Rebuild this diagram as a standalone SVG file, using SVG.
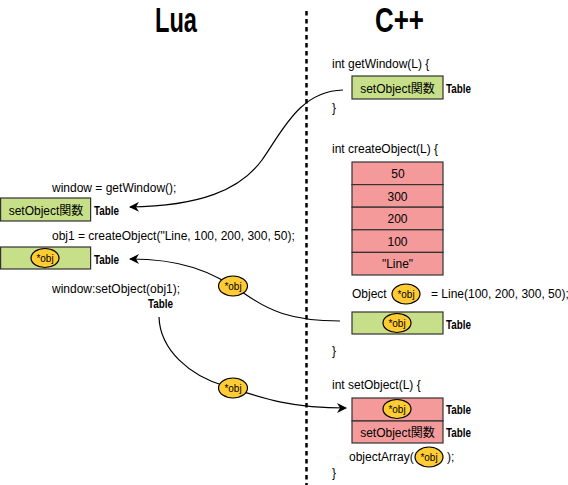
<svg xmlns="http://www.w3.org/2000/svg" width="568" height="485" viewBox="0 0 568 485">
<defs>
<style>
.t{font-family:"Liberation Sans",Arial,sans-serif;font-size:12px;fill:#000}
.c{font-family:"Liberation Sans","Noto Sans CJK JP",sans-serif;font-size:12px;fill:#000;text-anchor:middle}
.h{font-family:"Liberation Sans",Arial,sans-serif;font-weight:bold;font-size:35px;fill:#000}
.tb{font-family:"Liberation Sans",Arial,sans-serif;font-weight:bold;font-size:13.5px;fill:#000}
.g{fill:#C6DF88;stroke:#333;stroke-width:1.2}
.p{fill:#F49A9A;stroke:#333;stroke-width:1.2}
.e{fill:#FFCC33;stroke:#000;stroke-width:1.2}
.o{font-family:"Liberation Sans",Arial,sans-serif;font-size:10px;fill:#000;text-anchor:middle}
.l{fill:none;stroke:#000;stroke-width:1.2}
</style>
<marker id="ah" viewBox="0 0 10 10" refX="9" refY="5" markerWidth="10" markerHeight="10" markerUnits="userSpaceOnUse" orient="auto">
<path d="M0,0 L10,5 L0,10 L3,5 Z" fill="#000"/>
</marker>
</defs>
<rect width="568" height="485" fill="#fff"/>
<line x1="306.5" y1="11" x2="306.5" y2="485" stroke="#000" stroke-width="2.5" stroke-dasharray="4.5 3.5"/>
<text class="h" x="155" y="32" textLength="42" lengthAdjust="spacingAndGlyphs">Lua</text>
<text class="h" x="375" y="32" textLength="49" lengthAdjust="spacingAndGlyphs">C++</text>

<g id="connectors">
<path class="l" d="M343,90 C300,91 283,130 262,160 C240,190 200,206 130,207" marker-end="url(#ah)"/>
<path class="l" d="M340,321 C290,321 268,310 245,294 C210,270 180,259 130,259" marker-end="url(#ah)"/>
<path class="l" d="M159,317 C160,350 190,376 225,386 C262,398 290,408 346,408" marker-end="url(#ah)"/>
</g>

<g id="lua-window">
<text class="t" x="52" y="192">window = getWindow();</text>
<rect class="g" x="0.6" y="198" width="90" height="23"/>
<text class="c" x="46" y="215">setObject関数</text>
<text class="tb" x="94" y="215" textLength="25" lengthAdjust="spacingAndGlyphs">Table</text>
</g>
<g id="lua-obj1">
<text class="t" x="52" y="240">obj1 = createObject("Line, 100, 200, 300, 50);</text>
<rect class="g" x="0.6" y="247" width="90" height="22"/>
<ellipse class="e" cx="45" cy="258" rx="14" ry="9.5"/>
<text class="o" x="45" y="262">*obj</text>
<text class="tb" x="94" y="264" textLength="25" lengthAdjust="spacingAndGlyphs">Table</text>
</g>
<g id="lua-setobject">
<text class="t" x="52" y="293">window:setObject(obj1);</text>
<text class="tb" x="148" y="308" textLength="25" lengthAdjust="spacingAndGlyphs">Table</text>
</g>
<g id="badge1">
<ellipse class="e" cx="233" cy="286" rx="14.5" ry="10"/>
<text class="o" x="233" y="290">*obj</text>
</g>
<g id="badge2">
<ellipse class="e" cx="233" cy="388" rx="14.5" ry="10"/>
<text class="o" x="233" y="392">*obj</text>
</g>

<g id="cpp-getwindow">
<text class="t" x="332" y="68">int getWindow(L) {</text>
<rect class="g" x="352" y="76" width="91" height="23"/>
<text class="c" x="397.5" y="93">setObject関数</text>
<text class="tb" x="446" y="93" textLength="25" lengthAdjust="spacingAndGlyphs">Table</text>
<text class="t" x="332" y="112">}</text>
</g>

<g id="cpp-createobject">
<text class="t" x="332" y="153">int createObject(L) {</text>
<rect class="p" x="352" y="162" width="91" height="22.6"/>
<rect class="p" x="352" y="184.6" width="91" height="22.6"/>
<rect class="p" x="352" y="207.2" width="91" height="22.6"/>
<rect class="p" x="352" y="229.8" width="91" height="22.6"/>
<rect class="p" x="352" y="252.4" width="91" height="22.6"/>
<text class="c" x="398" y="178">50</text>
<text class="c" x="397.5" y="200.5">300</text>
<text class="c" x="397.5" y="223">200</text>
<text class="c" x="397.5" y="245.5">100</text>
<text class="c" x="397.5" y="268">"Line"</text>
<text class="t" x="352" y="298">Object</text>
<ellipse class="e" cx="406" cy="294" rx="14" ry="10"/>
<text class="o" x="406" y="298">*obj</text>
<text class="t" x="431" y="298">= Line(100, 200, 300, 50);</text>
<rect class="g" x="352" y="312" width="91" height="22"/>
<ellipse class="e" cx="397" cy="323" rx="14" ry="9.5"/>
<text class="o" x="397" y="327">*obj</text>
<text class="tb" x="446" y="329" textLength="25" lengthAdjust="spacingAndGlyphs">Table</text>
<text class="t" x="332" y="355">}</text>
</g>

<g id="cpp-setobject">
<text class="t" x="332" y="389">int setObject(L) {</text>
<rect class="p" x="352" y="398" width="91" height="23"/>
<rect class="p" x="352" y="421" width="91" height="22"/>
<ellipse class="e" cx="397" cy="409" rx="14" ry="9.5"/>
<text class="o" x="397" y="413">*obj</text>
<text class="c" x="397.5" y="437">setObject関数</text>
<text class="tb" x="446" y="414" textLength="25" lengthAdjust="spacingAndGlyphs">Table</text>
<text class="tb" x="446" y="437" textLength="25" lengthAdjust="spacingAndGlyphs">Table</text>
<text class="t" x="349" y="461">objectArray(</text>
<ellipse class="e" cx="429" cy="457" rx="14" ry="10"/>
<text class="o" x="429" y="461">*obj</text>
<text class="t" x="447" y="461">);</text>
<text class="t" x="332" y="477">}</text>
</g>
</svg>
